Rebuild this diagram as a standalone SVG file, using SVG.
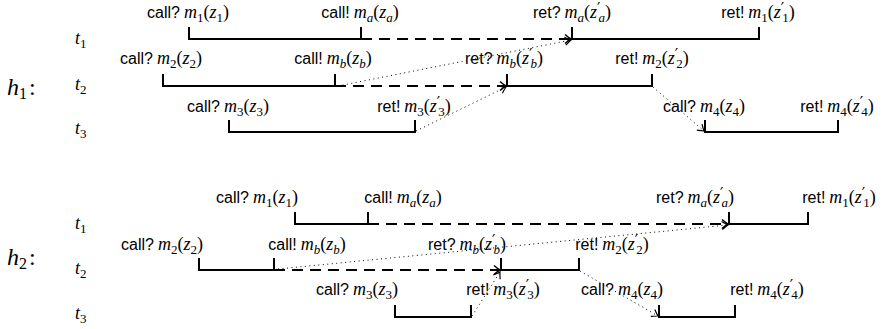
<svg xmlns="http://www.w3.org/2000/svg" width="886" height="329" viewBox="0 0 886 329">
<style>
text{font-family:"Liberation Serif","Times New Roman",serif;fill:#000}
.lb{text-anchor:middle}
.sf{font-family:"Liberation Sans",Arial,sans-serif;font-size:16px;font-style:normal}
.mi{font-family:"Liberation Serif","Times New Roman",serif;font-style:italic;font-size:18px}
.rm{font-family:"Liberation Serif","Times New Roman",serif;font-style:normal;font-size:18px}
.sb{font-family:"Liberation Serif","Times New Roman",serif;font-style:normal;font-size:13px}
.si{font-family:"Liberation Serif","Times New Roman",serif;font-style:italic;font-size:13px}
.pr{font-family:"DejaVu Sans",sans-serif;font-style:normal;font-size:15px}
.hb{font-size:24px}
.hs{font-size:16px}
.th{stroke:#000;stroke-width:2;fill:none}
.ds{stroke:#000;stroke-width:2;stroke-dasharray:11 7;fill:none}
.dt{stroke:#000;stroke-width:1;stroke-dasharray:1 3.5;fill:none}
</style>
<defs>
<marker id="ah" markerUnits="userSpaceOnUse" markerWidth="12" markerHeight="12" viewBox="-8 -6 10 12" refX="0" refY="0" orient="auto">
<path d="M-6,-4.5 Q-2,-1 0,0 Q-2,1 -6,4.5" fill="none" stroke="#000" stroke-width="1.6"/>
</marker>
<marker id="ahd" markerUnits="userSpaceOnUse" markerWidth="12" markerHeight="12" viewBox="-8 -6 10 12" refX="0" refY="0" orient="auto">
<path d="M-6,-4 Q-2,-1 0,0 Q-2,1 -6,4" fill="none" stroke="#000" stroke-width="1.2"/>
</marker>
</defs>

<!-- history labels -->
<g id="h1-label"><text x="7" y="95"><tspan class="mi hb">h</tspan><tspan class="sb hs" dy="4">1</tspan><tspan class="rm hb" dx="2" dy="-4">:</tspan></text></g>
<g id="h2-label"><text x="7" y="265"><tspan class="mi hb">h</tspan><tspan class="sb hs" dy="4">2</tspan><tspan class="rm hb" dx="2" dy="-4">:</tspan></text></g>

<!-- thread labels -->
<g id="h1-threads-labels">
<text x="75" y="44"><tspan class="mi">t</tspan><tspan class="sb" dy="4">1</tspan></text>
<text x="75" y="90"><tspan class="mi">t</tspan><tspan class="sb" dy="4">2</tspan></text>
<text x="75" y="134"><tspan class="mi">t</tspan><tspan class="sb" dy="4">3</tspan></text>
</g>
<g id="h2-threads-labels">
<text x="75" y="229"><tspan class="mi">t</tspan><tspan class="sb" dy="4">1</tspan></text>
<text x="75" y="274"><tspan class="mi">t</tspan><tspan class="sb" dy="4">2</tspan></text>
<text x="75" y="319"><tspan class="mi">t</tspan><tspan class="sb" dy="4">3</tspan></text>
</g>

<!-- thread segments (operation brackets) -->
<g id="segments">
<path class="th" d="M189,27 V39 H361 V27"/>
<path class="th" d="M572,27 V39 H759 V27"/>
<path class="th" d="M163,74 V86 H335 V74"/>
<path class="th" d="M507,74 V86 H652 V74"/>
<path class="th" d="M229,120 V132 H415 V120"/>
<path class="th" d="M705,120 V132 H838 V120"/>
<path class="th" d="M295,212 V224 H368 V212"/>
<path class="th" d="M729,212 V224 H808 V212"/>
<path class="th" d="M199,258 V270 H274 V258"/>
<path class="th" d="M501,258 V270 H579 V258"/>
<path class="th" d="M395,305 V317 H471 V305"/>
<path class="th" d="M659,305 V317 H735 V305"/>
</g>

<!-- connectors -->
<g id="connectors">
<path class="ds" d="M361,39 H571" marker-end="url(#ah)"/>
<path class="ds" d="M335,86 H506" marker-end="url(#ah)"/>
<path class="dt" d="M338,86 L571,40" marker-end="url(#ahd)"/>
<path class="dt" d="M416,131 L506,87" marker-end="url(#ahd)"/>
<path class="dt" d="M653,87 L704,131" marker-end="url(#ahd)"/>
<path class="ds" d="M368,224 H728" marker-end="url(#ah)"/>
<path class="ds" d="M274,270 H500" marker-end="url(#ah)"/>
<path class="dt" d="M278,269 L728,225" marker-end="url(#ahd)"/>
<path class="dt" d="M472,316 L500,272" marker-end="url(#ahd)"/>
<path class="dt" d="M580,271 L658,316" marker-end="url(#ahd)"/>
</g>

<!-- h1 events -->
<g id="h1-call-m1"><text class="lb" x="188" y="18"><tspan class="sf">call?</tspan><tspan class="mi" dx="4">m</tspan><tspan class="sb" dy="4">1</tspan><tspan class="rm" dy="-4">(</tspan><tspan class="mi">z</tspan><tspan class="sb" dy="4">1</tspan><tspan class="rm" dy="-4">)</tspan></text></g>
<g id="h1-call-ma"><text class="lb" x="360" y="18"><tspan class="sf">call!</tspan><tspan class="mi" dx="4">m</tspan><tspan class="si" dy="4">a</tspan><tspan class="rm" dy="-4">(</tspan><tspan class="mi">z</tspan><tspan class="si" dy="4">a</tspan><tspan class="rm" dy="-4">)</tspan></text></g>
<g id="h1-ret-ma"><text class="lb" x="572" y="18"><tspan class="sf">ret?</tspan><tspan class="mi" dx="4">m</tspan><tspan class="si" dy="4">a</tspan><tspan class="rm" dy="-4">(</tspan><tspan class="mi">z</tspan><tspan class="pr" dy="-4">′</tspan><tspan class="si" dx="-2" dy="8">a</tspan><tspan class="rm" dy="-4">)</tspan></text></g>
<g id="h1-ret-m1"><text class="lb" x="758" y="18"><tspan class="sf">ret!</tspan><tspan class="mi" dx="4">m</tspan><tspan class="sb" dy="4">1</tspan><tspan class="rm" dy="-4">(</tspan><tspan class="mi">z</tspan><tspan class="pr" dy="-4">′</tspan><tspan class="sb" dx="-2" dy="8">1</tspan><tspan class="rm" dy="-4">)</tspan></text></g>

<g id="h1-call-m2"><text class="lb" x="161" y="64"><tspan class="sf">call?</tspan><tspan class="mi" dx="4">m</tspan><tspan class="sb" dy="4">2</tspan><tspan class="rm" dy="-4">(</tspan><tspan class="mi">z</tspan><tspan class="sb" dy="4">2</tspan><tspan class="rm" dy="-4">)</tspan></text></g>
<g id="h1-call-mb"><text class="lb" x="333" y="64"><tspan class="sf">call!</tspan><tspan class="mi" dx="4">m</tspan><tspan class="si" dy="4">b</tspan><tspan class="rm" dy="-4">(</tspan><tspan class="mi">z</tspan><tspan class="si" dy="4">b</tspan><tspan class="rm" dy="-4">)</tspan></text></g>
<g id="h1-ret-mb"><text class="lb" x="504" y="64"><tspan class="sf">ret?</tspan><tspan class="mi" dx="4">m</tspan><tspan class="si" dy="4">b</tspan><tspan class="rm" dy="-4">(</tspan><tspan class="mi">z</tspan><tspan class="pr" dy="-4">′</tspan><tspan class="si" dx="-2" dy="8">b</tspan><tspan class="rm" dy="-4">)</tspan></text></g>
<g id="h1-ret-m2"><text class="lb" x="652" y="64"><tspan class="sf">ret!</tspan><tspan class="mi" dx="4">m</tspan><tspan class="sb" dy="4">2</tspan><tspan class="rm" dy="-4">(</tspan><tspan class="mi">z</tspan><tspan class="pr" dy="-4">′</tspan><tspan class="sb" dx="-2" dy="8">2</tspan><tspan class="rm" dy="-4">)</tspan></text></g>

<g id="h1-call-m3"><text class="lb" x="228" y="112"><tspan class="sf">call?</tspan><tspan class="mi" dx="4">m</tspan><tspan class="sb" dy="4">3</tspan><tspan class="rm" dy="-4">(</tspan><tspan class="mi">z</tspan><tspan class="sb" dy="4">3</tspan><tspan class="rm" dy="-4">)</tspan></text></g>
<g id="h1-ret-m3"><text class="lb" x="414" y="112"><tspan class="sf">ret!</tspan><tspan class="mi" dx="4">m</tspan><tspan class="sb" dy="4">3</tspan><tspan class="rm" dy="-4">(</tspan><tspan class="mi">z</tspan><tspan class="pr" dy="-4">′</tspan><tspan class="sb" dx="-2" dy="8">3</tspan><tspan class="rm" dy="-4">)</tspan></text></g>
<g id="h1-call-m4"><text class="lb" x="704" y="112"><tspan class="sf">call?</tspan><tspan class="mi" dx="4">m</tspan><tspan class="sb" dy="4">4</tspan><tspan class="rm" dy="-4">(</tspan><tspan class="mi">z</tspan><tspan class="sb" dy="4">4</tspan><tspan class="rm" dy="-4">)</tspan></text></g>
<g id="h1-ret-m4"><text class="lb" x="837" y="112"><tspan class="sf">ret!</tspan><tspan class="mi" dx="4">m</tspan><tspan class="sb" dy="4">4</tspan><tspan class="rm" dy="-4">(</tspan><tspan class="mi">z</tspan><tspan class="pr" dy="-4">′</tspan><tspan class="sb" dx="-2" dy="8">4</tspan><tspan class="rm" dy="-4">)</tspan></text></g>

<!-- h2 events -->
<g id="h2-call-m1"><text class="lb" x="257" y="203"><tspan class="sf">call?</tspan><tspan class="mi" dx="4">m</tspan><tspan class="sb" dy="4">1</tspan><tspan class="rm" dy="-4">(</tspan><tspan class="mi">z</tspan><tspan class="sb" dy="4">1</tspan><tspan class="rm" dy="-4">)</tspan></text></g>
<g id="h2-call-ma"><text class="lb" x="403" y="203"><tspan class="sf">call!</tspan><tspan class="mi" dx="4">m</tspan><tspan class="si" dy="4">a</tspan><tspan class="rm" dy="-4">(</tspan><tspan class="mi">z</tspan><tspan class="si" dy="4">a</tspan><tspan class="rm" dy="-4">)</tspan></text></g>
<g id="h2-ret-ma"><text class="lb" x="695" y="203"><tspan class="sf">ret?</tspan><tspan class="mi" dx="4">m</tspan><tspan class="si" dy="4">a</tspan><tspan class="rm" dy="-4">(</tspan><tspan class="mi">z</tspan><tspan class="pr" dy="-4">′</tspan><tspan class="si" dx="-2" dy="8">a</tspan><tspan class="rm" dy="-4">)</tspan></text></g>
<g id="h2-ret-m1"><text class="lb" x="839" y="203"><tspan class="sf">ret!</tspan><tspan class="mi" dx="4">m</tspan><tspan class="sb" dy="4">1</tspan><tspan class="rm" dy="-4">(</tspan><tspan class="mi">z</tspan><tspan class="pr" dy="-4">′</tspan><tspan class="sb" dx="-2" dy="8">1</tspan><tspan class="rm" dy="-4">)</tspan></text></g>

<g id="h2-call-m2"><text class="lb" x="162" y="250"><tspan class="sf">call?</tspan><tspan class="mi" dx="4">m</tspan><tspan class="sb" dy="4">2</tspan><tspan class="rm" dy="-4">(</tspan><tspan class="mi">z</tspan><tspan class="sb" dy="4">2</tspan><tspan class="rm" dy="-4">)</tspan></text></g>
<g id="h2-call-mb"><text class="lb" x="307" y="250"><tspan class="sf">call!</tspan><tspan class="mi" dx="4">m</tspan><tspan class="si" dy="4">b</tspan><tspan class="rm" dy="-4">(</tspan><tspan class="mi">z</tspan><tspan class="si" dy="4">b</tspan><tspan class="rm" dy="-4">)</tspan></text></g>
<g id="h2-ret-mb"><text class="lb" x="467" y="250"><tspan class="sf">ret?</tspan><tspan class="mi" dx="4">m</tspan><tspan class="si" dy="4">b</tspan><tspan class="rm" dy="-4">(</tspan><tspan class="mi">z</tspan><tspan class="pr" dy="-4">′</tspan><tspan class="si" dx="-2" dy="8">b</tspan><tspan class="rm" dy="-4">)</tspan></text></g>
<g id="h2-ret-m2"><text class="lb" x="612" y="250"><tspan class="sf">ret!</tspan><tspan class="mi" dx="4">m</tspan><tspan class="sb" dy="4">2</tspan><tspan class="rm" dy="-4">(</tspan><tspan class="mi">z</tspan><tspan class="pr" dy="-4">′</tspan><tspan class="sb" dx="-2" dy="8">2</tspan><tspan class="rm" dy="-4">)</tspan></text></g>

<g id="h2-call-m3"><text class="lb" x="357" y="295"><tspan class="sf">call?</tspan><tspan class="mi" dx="4">m</tspan><tspan class="sb" dy="4">3</tspan><tspan class="rm" dy="-4">(</tspan><tspan class="mi">z</tspan><tspan class="sb" dy="4">3</tspan><tspan class="rm" dy="-4">)</tspan></text></g>
<g id="h2-ret-m3"><text class="lb" x="503" y="295"><tspan class="sf">ret!</tspan><tspan class="mi" dx="4">m</tspan><tspan class="sb" dy="4">3</tspan><tspan class="rm" dy="-4">(</tspan><tspan class="mi">z</tspan><tspan class="pr" dy="-4">′</tspan><tspan class="sb" dx="-2" dy="8">3</tspan><tspan class="rm" dy="-4">)</tspan></text></g>
<g id="h2-call-m4"><text class="lb" x="622" y="295"><tspan class="sf">call?</tspan><tspan class="mi" dx="4">m</tspan><tspan class="sb" dy="4">4</tspan><tspan class="rm" dy="-4">(</tspan><tspan class="mi">z</tspan><tspan class="sb" dy="4">4</tspan><tspan class="rm" dy="-4">)</tspan></text></g>
<g id="h2-ret-m4"><text class="lb" x="767" y="295"><tspan class="sf">ret!</tspan><tspan class="mi" dx="4">m</tspan><tspan class="sb" dy="4">4</tspan><tspan class="rm" dy="-4">(</tspan><tspan class="mi">z</tspan><tspan class="pr" dy="-4">′</tspan><tspan class="sb" dx="-2" dy="8">4</tspan><tspan class="rm" dy="-4">)</tspan></text></g>
</svg>
